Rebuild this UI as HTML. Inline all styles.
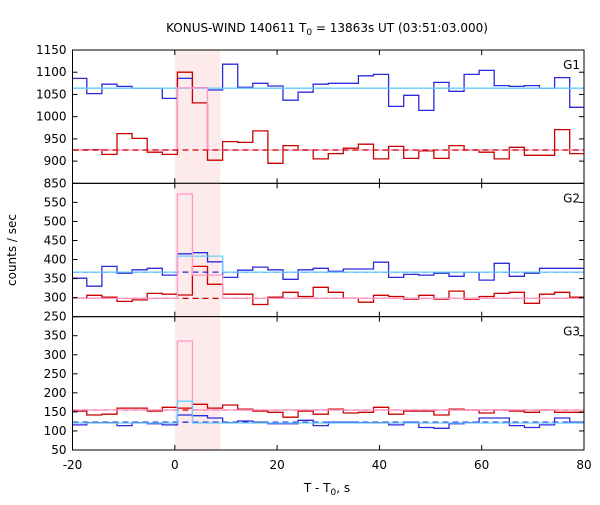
<!DOCTYPE html>
<html><head><meta charset="utf-8"><style>
body{margin:0;background:#fff;}
svg text{font-family:"DejaVu Sans","Liberation Sans",sans-serif;font-size:12px;fill:#000;}
</style></head><body>
<svg id="chart" width="600" height="500" viewBox="0 0 600 500" xmlns="http://www.w3.org/2000/svg">
<rect width="600" height="500" fill="#fff"/>
<text x="327" y="32" text-anchor="middle">KONUS-WIND 140611 T<tspan font-size="9" dy="3">0</tspan><tspan dy="-3"> = 13863s UT (03:51:03.000)</tspan></text>
<text transform="translate(16,250) rotate(-90)" text-anchor="middle">counts / sec</text>
<text x="327" y="492" text-anchor="middle">T - T<tspan font-size="9" dy="3">0</tspan><tspan dy="-3">, s</tspan></text>
<g id="plots"></g>
</svg>
<script>
const binStart0 = -20.15;
const binWidth = 2.95;
const xTicks = [-20, 0, 20, 40, 60, 80];
const shadeRange = [0, 8.9];
const panelNames = ["G1", "G2", "G3"];
const yDomains = [[850, 1150], [250, 600], [50, 400]];
const yTicks1 = [850, 900, 950, 1000, 1050, 1100, 1150];
const yTicks2 = [250, 300, 350, 400, 450, 500, 550];
const yTicks3 = [50, 100, 150, 200, 250, 300, 350];
const g1Blue = [1086,1052,1073,1068,1064,1064,1041,1086,1065,1060,1118,1066,1075,1069,1037,1055,1073,1075,1075,1092,1095,1023,1048,1014,1077,1057,1095,1104,1070,1068,1070,1064,1088,1021];
const g1Red = [925,926,915,962,951,920,915,1100,1031,902,944,942,968,895,935,925,905,917,929,938,905,933,906,923,906,935,925,920,905,931,913,913,971,917];
const g2Blue = [351,330,382,364,373,377,359,415,418,394,353,372,380,373,348,373,377,369,375,375,393,353,361,359,364,356,367,346,390,356,364,377,377,377];
const g2Red = [298,306,301,290,294,311,309,307,382,335,309,309,282,301,314,303,327,314,298,288,306,303,296,306,296,317,296,303,311,314,285,309,314,301];
const g3Red = [152,142,144,160,160,152,162,160,170,160,168,157,152,149,136,152,144,157,147,149,162,144,152,152,142,157,155,147,155,152,149,155,149,149];
const g3Blue = [116,122,122,114,122,119,116,142,140,134,122,126,123,119,119,128,114,123,123,122,122,116,123,109,107,119,122,134,134,114,109,116,134,123];
// background levels and flare-model values (bins 7,8,9)
const g1BlueBg = 1064, g1RedBg = 925;
const g2BlueBg = 367, g2RedBg = 298;
const g3BlueBg = 123, g3RedBg = 155;
const g1PinkFlare = [1065, 1065, 925];
const g2CyanFlare = [409, 409, 409];
const g2PinkFlare = [572, 359, 359];
const g3PinkFlare = [336, 155, 155];
const g3CyanFlare = [178, 121, 121];
const flareStartBin = 7;

const L = 72.5, R = 584, T = 50, B = 450;
const PH = (B - T) / 3;
const NS = "http://www.w3.org/2000/svg";
const root = document.getElementById("plots");
const xS = v => L + (v + 20) / 100 * (R - L);
function mk(tag, attrs, parent) {
  const e = document.createElementNS(NS, tag);
  for (const k in attrs) e.setAttribute(k, attrs[k]);
  parent.appendChild(e);
  return e;
}
function modelSeries(n, bg, flare) {
  const a = [];
  for (let i = 0; i < n; i++) a.push(bg);
  flare.forEach((v, j) => { a[flareStartBin + j] = v; });
  return a;
}
function stepPath(vals, yS) {
  let d = "";
  vals.forEach((v, i) => {
    const x0 = xS(Math.max(-20, binStart0 + i * binWidth));
    const x1 = xS(Math.min(80, binStart0 + (i + 1) * binWidth));
    const y = yS(v);
    d += (i === 0 ? "M" : "L") + x0.toFixed(1) + "," + y.toFixed(1) + "L" + x1.toFixed(1) + "," + y.toFixed(1);
  });
  return d;
}
const panels = [
  {ticks: yTicks1, series: [
    {vals: g1Blue, color: "#2b2bdc", name: "g1-blue-counts"},
    {vals: g1Red, color: "#cc0000", name: "g1-red-counts"},
    {vals: modelSeries(34, g1BlueBg, []), color: "#66ccff", name: "g1-cyan-model"},
    {vals: modelSeries(34, g1RedBg, g1PinkFlare), color: "#ff99cc", name: "g1-pink-model"},
    {line: g1RedBg, color: "#cc0000", name: "g1-red-background"}]},
  {ticks: yTicks2, series: [
    {vals: g2Blue, color: "#2b2bdc", name: "g2-blue-counts"},
    {vals: g2Red, color: "#cc0000", name: "g2-red-counts"},
    {line: g2BlueBg, color: "#2b2bdc", name: "g2-blue-background"},
    {line: g2RedBg, color: "#cc0000", name: "g2-red-background"},
    {vals: modelSeries(34, g2BlueBg, g2CyanFlare), color: "#66ccff", name: "g2-cyan-model"},
    {vals: modelSeries(34, g2RedBg, g2PinkFlare), color: "#ff99cc", name: "g2-pink-model"}]},
  {ticks: yTicks3, series: [
    {vals: g3Red, color: "#cc0000", name: "g3-red-counts"},
    {vals: g3Blue, color: "#2b2bdc", name: "g3-blue-counts"},
    {line: g3BlueBg, color: "#2b2bdc", name: "g3-blue-background"},
    {line: g3RedBg, color: "#cc0000", name: "g3-red-background"},
    {vals: modelSeries(34, g3RedBg, g3PinkFlare), color: "#ff99cc", name: "g3-pink-model"},
    {vals: modelSeries(34, g3BlueBg - 2, g3CyanFlare), color: "#66ccff", name: "g3-cyan-model"}]}
];
panels.forEach((p, pi) => {
  const top = T + pi * PH, bot = top + PH;
  const [d0, d1] = yDomains[pi];
  const yS = v => bot - (v - d0) / (d1 - d0) * PH;
  const g = mk("g", {}, root);
  
  
  const sh = mk("rect", {x: xS(shadeRange[0]), y: top, width: xS(shadeRange[1]) - xS(shadeRange[0]), height: PH, fill: "#fdeaea"}, g);
  
  
  p.series.forEach(s => {
    let e;
    if (s.line !== undefined) {
      e = mk("line", {x1: L, x2: R, y1: yS(s.line), y2: yS(s.line), stroke: s.color, "stroke-width": 1.3, "stroke-dasharray": "6,4"}, g);
    } else {
      e = mk("path", {d: stepPath(s.vals, yS), fill: "none", stroke: s.color, "stroke-width": 1.3}, g);
    }
    
    
  });
  const fr = mk("rect", {x: L, y: top, width: R - L, height: PH, fill: "none", stroke: "#000", "stroke-width": 1}, g);
  
  
  p.ticks.forEach(t => {
    const y = yS(t);
    mk("line", {x1: L, x2: L + 5, y1: y, y2: y, stroke: "#000"}, g);
    mk("line", {x1: R - 5, x2: R, y1: y, y2: y, stroke: "#000"}, g);
    const tx = mk("text", {x: L - 6, y: y + 4, "text-anchor": "end"}, g);
    tx.textContent = t;
    
    
  });
  xTicks.forEach(t => {
    const x = xS(t);
    mk("line", {x1: x, x2: x, y1: top, y2: top + 5, stroke: "#000"}, g);
    mk("line", {x1: x, x2: x, y1: bot - 5, y2: bot, stroke: "#000"}, g);
  });
  const lb = mk("text", {x: R - 4, y: top + 19, "text-anchor": "end"}, g);
  lb.textContent = panelNames[pi];
  
  
});
xTicks.forEach(t => {
  const tx = mk("text", {x: xS(t), y: 469, "text-anchor": "middle"}, root);
  tx.textContent = t;
  
  
});
</script>
</body></html>
